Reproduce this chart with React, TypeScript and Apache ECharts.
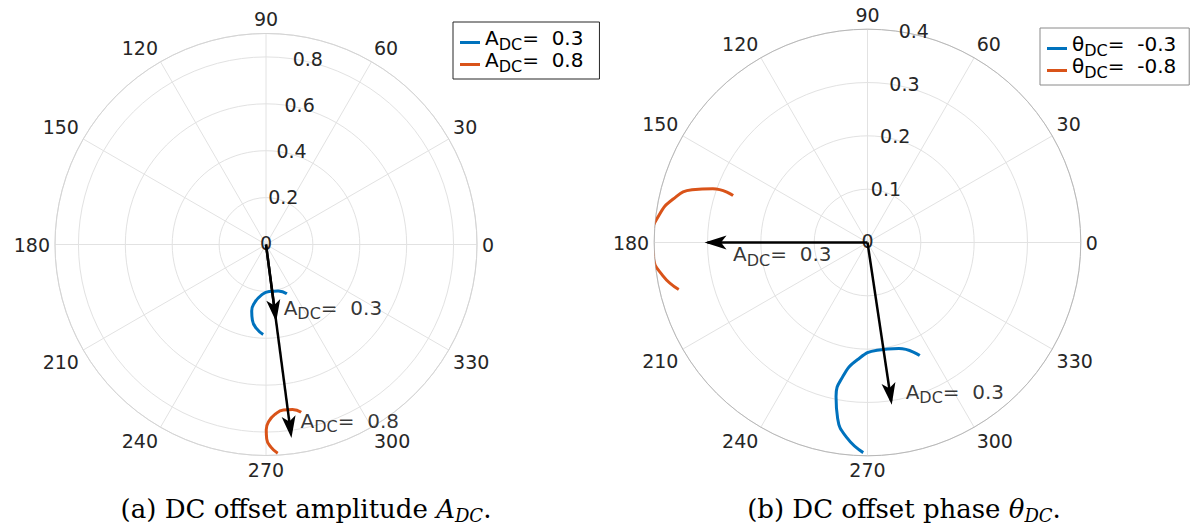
import { useEffect, useRef } from 'react';
import * as echarts from 'echarts';

const BLUE = '#0072BD';
const ORANGE = '#D95319';
const INK = '#262626';
const GRID = '#e2e2e2';

// ---------- (a) DC offset amplitude ----------
const ampRadiusMax = 0.9;
const ampRadiusStep = 0.2;
const ampLegendValues = ['0.3', '0.8'];
const ampArrowAngle = 277.5;
const ampArrowRadius = [0.3, 0.8];
const ampArrowText = ['0.3', '0.8'];
// traces as [x, y] in radial units
const ampTraceLow: [number, number][] = [
  [0.089, -0.21], [0.052, -0.198], [0.013, -0.2], [-0.022, -0.218], [-0.048, -0.247],
  [-0.061, -0.284], [-0.058, -0.323], [-0.041, -0.358], [-0.012, -0.384],
];
const ampTraceHigh: [number, number][] = [
  [0.15, -0.716], [0.113, -0.704], [0.074, -0.706], [0.039, -0.724], [0.013, -0.753],
  [0.001, -0.79], [0.003, -0.829], [0.021, -0.864], [0.05, -0.89],
];

// ---------- (b) DC offset phase ----------
const phaseRadiusMax = 0.4;
const phaseRadiusStep = 0.1;
const phaseLegendValues = ['-0.3', '-0.8'];
const phaseArrowRadius = [0.3, 0.3];
const phaseArrowAngle = [180, 278.5];
const phaseArrowText = ['0.3', '0.3'];
const phaseTraceLow: [number, number][] = [
  [0.098, -0.212], [0.059, -0.199], [0.018, -0.202], [-0.019, -0.22], [-0.046, -0.251],
  [-0.059, -0.289], [-0.056, -0.33], [-0.038, -0.367], [-0.008, -0.394],
];
const phaseTraceHigh: [number, number][] = [
  [-0.252, 0.088], [-0.29, 0.101], [-0.329, 0.099], [-0.365, 0.081], [-0.391, 0.051],
  [-0.404, 0.013], [-0.402, -0.026], [-0.384, -0.062], [-0.354, -0.088],
];

const toPolar = (pts: [number, number][]) =>
  pts.map(([x, y]) => {
    let deg = (Math.atan2(y, x) * 180) / Math.PI;
    if (deg < 0) deg += 360;
    return [Math.hypot(x, y), deg];
  });

// symbol with a lowered "DC" subscript
const subRich = {
  m: { fontSize: 20, lineHeight: 19, padding: [0, 0, 4, 0], verticalAlign: 'bottom', color: '#000', fontFamily: 'DejaVu Sans' },
  s: { fontSize: 16, lineHeight: 19, verticalAlign: 'bottom', color: '#000', fontFamily: 'DejaVu Sans' },
};
const subText = (sym: string, val: string) => `{m|${sym}}{s|DC}{m|=  ${val}}`;

const angleAxisMain = (polarIndex: number, ringColor: string) => ({
  polarIndex,
  type: 'value',
  min: 0,
  max: 360,
  interval: 30,
  startAngle: 0,
  clockwise: false,
  axisLine: { show: true, lineStyle: { color: ringColor, width: 1 } },
  axisTick: { show: false },
  axisLabel: {
    margin: 5,
    color: INK,
    fontSize: 19,
    fontFamily: 'DejaVu Sans',
    formatter: (v: number) => (v >= 360 ? '' : String(v)),
  },
  splitLine: { show: true, lineStyle: { color: GRID, width: 1 } },
});

const radiusAxisMain = (polarIndex: number, max: number, step: number) => ({
  polarIndex,
  type: 'value',
  min: 0,
  max,
  interval: step,
  axisLine: { show: false },
  axisTick: { show: false },
  axisLabel: { show: false },
  splitLine: { show: true, lineStyle: { color: GRID, width: 1 } },
});

// second polar sharing the same disc: only carries the radial tick labels at 80 degrees
const angleAxisLabels = (polarIndex: number) => ({
  polarIndex,
  type: 'value',
  min: 0,
  max: 360,
  startAngle: 80,
  clockwise: false,
  show: false,
});

const radiusAxisLabels = (polarIndex: number, max: number, step: number, showMax: boolean) => ({
  polarIndex,
  type: 'value',
  min: 0,
  max,
  interval: step,
  axisLine: { show: false },
  axisTick: { show: false },
  splitLine: { show: false },
  axisLabel: {
    show: true,
    showMaxLabel: showMax,
    margin: 6,
    align: 'left',
    verticalAlign: 'middle',
    padding: [0, 0, 6, 0],
    color: INK,
    fontSize: 19,
    fontFamily: 'DejaVu Sans',
  },
});

const traceSeries = (name: string, polarIndex: number, pts: [number, number][], color: string) => ({
  name,
  type: 'line',
  coordinateSystem: 'polar',
  polarIndex,
  data: toPolar(pts),
  smooth: true,
  symbol: 'none',
  clip: false,
  silent: true,
  color,
  lineStyle: { color, width: 3 },
  itemStyle: { color },
  z: 3,
});

// shaft from the origin with an arrowhead; `ahead` pushes the head forward along the shaft (px)
const arrowSeries = (polarIndex: number, r: number, deg: number, ahead: number) => {
  const rad = (deg * Math.PI) / 180;
  return {
    type: 'line',
    coordinateSystem: 'polar',
    polarIndex,
    silent: true,
    clip: false,
    symbol: 'arrow',
    showSymbol: true,
    lineStyle: { color: '#000', width: 2.5 },
    itemStyle: { color: '#000' },
    z: 5,
    data: [
      { value: [0, deg], symbol: 'none' },
      {
        value: [r, deg],
        symbol: 'arrow',
        symbolSize: [10.5, 22],
        symbolRotate: deg - 90,
        symbolOffset: [ahead * Math.cos(rad), -ahead * Math.sin(rad)],
      },
    ],
  };
};

const tagSeries = (polarIndex: number, r: number, deg: number, val: string, offset: number[]) => ({
  type: 'scatter',
  coordinateSystem: 'polar',
  polarIndex,
  silent: true,
  clip: false,
  symbolSize: 1,
  itemStyle: { color: 'rgba(0,0,0,0)' },
  z: 6,
  data: [[r, deg]],
  label: {
    show: true,
    position: 'right',
    distance: 0,
    offset,
    formatter: () => subText('A', val),
    rich: subRich,
  },
});

const legendFor = (names: string[], left: number, top: number, border: string, padRight: number) => ({
  data: names,
  orient: 'vertical',
  left,
  top,
  icon: 'rect',
  itemWidth: 20,
  itemHeight: 3,
  itemGap: -2,
  itemTextGap: 5,
  padding: [6, padRight, 5, 7],
  borderColor: border,
  borderWidth: 1,
  backgroundColor: '#fff',
  selectedMode: false,
  formatter: (name: string) => {
    const m = name.match(/^(.*)_DC = (.*)$/);
    return m ? subText(m[1], m[2]) : name;
  },
  textStyle: { rich: subRich },
});

const captionStyle = {
  fontFamily: 'DejaVu Serif',
  fontSize: 26,
  fontWeight: 'normal',
  color: '#000',
  lineHeight: 30,
  rich: {
    i: { fontFamily: 'DejaVu Serif', fontStyle: 'italic', fontSize: 26, color: '#000' },
    d: { fontFamily: 'DejaVu Serif', fontStyle: 'italic', fontSize: 18, verticalAlign: 'bottom', color: '#000' },
  },
};

export default function App() {
  const ref = useRef<HTMLDivElement>(null);

  useEffect(() => {
    if (!ref.current) return;
    const chart = echarts.init(ref.current, undefined, { renderer: 'svg' });

    const ampNames = ampLegendValues.map((v) => `A_DC = ${v}`);
    const phaseNames = phaseLegendValues.map((v) => `θ_DC = ${v}`);

    const option = {
      animation: false,
      backgroundColor: '#fff',
      textStyle: { fontFamily: 'DejaVu Sans' },
      title: [
        {
          text: '(a) DC offset amplitude {i|A}{d|DC}.',
          left: 306,
          top: 494,
          textAlign: 'center',
          padding: 0,
          textStyle: captionStyle,
        },
        {
          text: '(b) DC offset phase {i|θ}{d|DC}.',
          left: 904,
          top: 494,
          textAlign: 'center',
          padding: 0,
          textStyle: captionStyle,
        },
      ],
      legend: [
        legendFor(ampNames, 453, 22, INK, 16),
        legendFor(phaseNames, 1040, 28, '#8a8a8a', 13),
      ],
      polar: [
        { center: [266, 244.5], radius: 211 },
        { center: [266, 244.5], radius: 211 },
        { center: [867.5, 242.5], radius: 213.3 },
        { center: [867.5, 242.5], radius: 213.3 },
      ],
      angleAxis: [
        angleAxisMain(0, '#d4d4d4'),
        angleAxisLabels(1),
        angleAxisMain(2, '#b8b8b8'),
        angleAxisLabels(3),
      ],
      radiusAxis: [
        radiusAxisMain(0, ampRadiusMax, ampRadiusStep),
        radiusAxisLabels(1, ampRadiusMax, ampRadiusStep, false),
        radiusAxisMain(2, phaseRadiusMax, phaseRadiusStep),
        radiusAxisLabels(3, phaseRadiusMax, phaseRadiusStep, true),
      ],
      series: [
        traceSeries(ampNames[0], 0, ampTraceLow, BLUE),
        traceSeries(ampNames[1], 0, ampTraceHigh, ORANGE),
        arrowSeries(0, ampArrowRadius[1], ampArrowAngle, 7.5),
        arrowSeries(0, ampArrowRadius[0], ampArrowAngle, 7.5),
        tagSeries(0, ampArrowRadius[0], ampArrowAngle, ampArrowText[0], [8, -2]),
        tagSeries(0, ampArrowRadius[1], ampArrowAngle, ampArrowText[1], [9.6, -5.4]),

        traceSeries(phaseNames[0], 2, phaseTraceLow, BLUE),
        traceSeries(phaseNames[1], 2, phaseTraceHigh, ORANGE),
        arrowSeries(2, phaseArrowRadius[0], phaseArrowAngle[0], 3),
        arrowSeries(2, phaseArrowRadius[1], phaseArrowAngle[1], 4),
        tagSeries(2, phaseArrowRadius[0], phaseArrowAngle[0], phaseArrowText[0], [25, 16]),
        tagSeries(2, phaseArrowRadius[1], phaseArrowAngle[1], phaseArrowText[1], [14, -4.6]),
      ],
    };

    chart.setOption(option as any);
    return () => chart.dispose();
  }, []);

  return (
    <div
      ref={ref}
      style={{ position: 'fixed', left: 0, top: 0, width: 1196, height: 529, background: '#fff' }}
    />
  );
}
